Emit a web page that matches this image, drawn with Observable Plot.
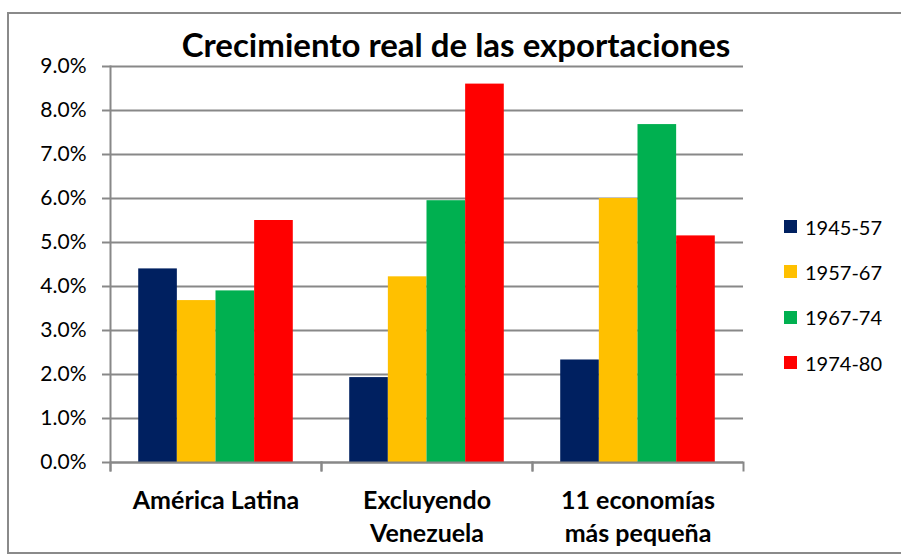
<!DOCTYPE html>
<html>
<head>
<meta charset="utf-8">
<script src="https://cdn.jsdelivr.net/npm/d3@7"></script>
<script src="https://cdn.jsdelivr.net/npm/@observablehq/plot@0.6"></script>
<style>
  html, body { margin: 0; padding: 0; background: #fff; }
  #wrap { position: relative; width: 901px; height: 558px; font-family: Lato, "Open Sans", sans-serif; }
  #border { position: absolute; left: 7px; top: 12px; width: 900px; height: 542px; border: 2px solid #8a8a8a; box-sizing: border-box; pointer-events: none; }
  #title { position: absolute; left: 0; width: 912px; top: 25px; text-align: center; font-weight: bold; font-size: 33px; line-height: 38px; color: #000; }
  #legend { position: absolute; left: 784px; top: 204px; }
  .row { display: flex; align-items: center; height: 45.3px; font-size: 20px; color: #000; }
  .sw { width: 13px; height: 13px; margin-right: 8px; }
  #chart { position: absolute; left: 0; top: 0; }
</style>
</head>
<body>
<div id="wrap">
  <div id="chart"></div>
  <div id="title"></div>
  <div id="legend"></div>
  <div id="border"></div>
</div>
<script>
const titleText = "Crecimiento real de las exportaciones";
const groups = ["América Latina", "Excluyendo Venezuela", "11 economías más pequeña"];
const groupLabels = ["América Latina", "Excluyendo\nVenezuela", "11 economías\nmás pequeña"];
const series = ["1945-57", "1957-67", "1967-74", "1974-80"];
const colors = ["#002060", "#FFC000", "#00B050", "#FF0000"];
const v1945_57 = [4.4, 1.93, 2.33];
const v1957_67 = [3.68, 4.22, 6.0];
const v1967_74 = [3.9, 5.95, 7.68];
const v1974_80 = [5.5, 8.6, 5.15];
const yTicks = [0, 1, 2, 3, 4, 5, 6, 7, 8, 9];

const seriesValues = [v1945_57, v1957_67, v1967_74, v1974_80];
const data = [];
groups.forEach((g, gi) => series.forEach((s, si) => data.push({group: g, series: s, value: seriesValues[si][gi]})));

const chart = Plot.plot({
  width: 901,
  height: 558,
  marginTop: 66,
  marginBottom: 96,
  marginLeft: 110,
  marginRight: 158,
  style: {fontFamily: "Lato, 'Open Sans', sans-serif", color: "#000", background: "transparent", overflow: "visible"},
  fx: {domain: groups, padding: 0, label: null, round: false},
  x: {domain: series, paddingInner: 0, paddingOuter: 0.73, round: false, axis: null},
  y: {domain: [0, 9], label: null},
  color: {domain: series, range: colors},
  marks: [
    Plot.gridY(yTicks, {stroke: "#888", strokeOpacity: 1, strokeWidth: 2}),
    Plot.barY(data, {fx: "group", x: "series", y: "value", fill: "series"}),
    Plot.ruleY([0], {stroke: "#888", strokeWidth: 2}),
    Plot.frame({anchor: "left", facet: "super", stroke: "#888", strokeWidth: 2, insetBottom: -8}),
    Plot.frame({anchor: "left", stroke: "#888", strokeWidth: 2, insetTop: 396, insetBottom: -8}),
    Plot.frame({anchor: "right", stroke: "#888", strokeWidth: 2, insetTop: 396, insetBottom: -8}),
    Plot.axisY(yTicks, {tickSize: 8, tickPadding: 16, stroke: "#888", strokeWidth: 2, fill: "#000", fontSize: 21, tickFormat: d => d.toFixed(1) + "%", label: null}),
    Plot.axisFx({anchor: "bottom", tickSize: 0, tickPadding: 23, fontSize: 25, fontWeight: "bold", fill: "#000", lineHeight: 1.33, tickFormat: d => groupLabels[groups.indexOf(d)], label: null})
  ]
});
document.getElementById("chart").appendChild(chart);
document.getElementById("title").textContent = titleText;
const legend = document.getElementById("legend");
series.forEach((s, i) => {
  const row = document.createElement("div");
  row.className = "row";
  const sw = document.createElement("div");
  sw.className = "sw";
  sw.style.background = colors[i];
  const t = document.createElement("span");
  t.textContent = s;
  row.appendChild(sw);
  row.appendChild(t);
  legend.appendChild(row);
});
</script>
</body>
</html>
